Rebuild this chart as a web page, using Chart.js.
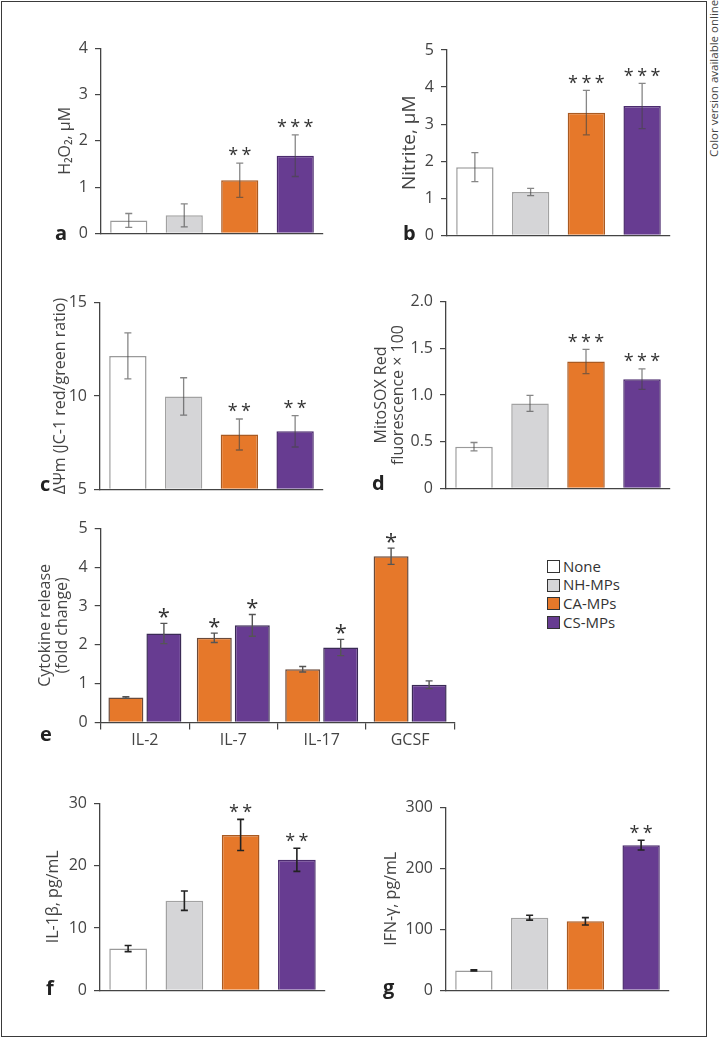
<!DOCTYPE html>
<html><head><meta charset="utf-8">
<script src="https://cdn.jsdelivr.net/npm/chart.js@4.4.1/dist/chart.umd.min.js"></script>
<style>
html,body{margin:0;padding:0;background:#fff;}
body{width:720px;height:1038px;position:relative;overflow:hidden;font-family:'Open Sans',sans-serif;}
canvas{position:absolute;}
.frame{position:absolute;left:1px;top:1px;width:704px;height:1034px;border:1.3px solid #3a3a3a;}
.letter{position:absolute;font:bold 20px/1 'Open Sans',sans-serif;color:#222;}
.note{position:absolute;left:707px;top:157px;white-space:nowrap;font:11.5px/14px 'Open Sans',sans-serif;color:#444;transform-origin:0 0;transform:rotate(-90deg);}
.lbox{position:absolute;width:13px;height:13px;box-sizing:border-box;border:1.2px solid #333;}
.ltxt{position:absolute;font:15px/1 'Open Sans',sans-serif;color:#333;white-space:nowrap;}
</style></head><body>
<div class="frame"></div>
<div class="note">Color version available online</div>
<canvas id="pa"></canvas><canvas id="pb"></canvas>
<canvas id="pc"></canvas><canvas id="pd"></canvas>
<canvas id="pe"></canvas>
<canvas id="pf"></canvas><canvas id="pg"></canvas>
<div id="legend"></div>
<div id="letters"></div>
<script>
// ---------------- DATA ----------------
const groups = ['None', 'NH-MPs', 'CA-MPs', 'CS-MPs'];

const h2o2Mean = [0.28, 0.39, 1.15, 1.68];
const h2o2Err  = [0.15, 0.25, 0.37, 0.45];
const h2o2Sig  = ['', '', '**', '***'];
const h2o2Ticks = ['0', '1', '2', '3', '4'];

const nitriteMean = [1.84, 1.17, 3.31, 3.49];
const nitriteErr  = [0.39, 0.10, 0.60, 0.61];
const nitriteSig  = ['', '', '***', '***'];
const nitriteTicks = ['0', '1', '2', '3', '4', '5'];

const dpsiMean = [12.15, 9.98, 7.94, 8.11];
const dpsiErr  = [1.23, 1.00, 0.83, 0.84];
const dpsiSig  = ['', '', '**', '**'];
const dpsiTicks = ['5', '10', '15'];

const mitoMean = [0.446, 0.91, 1.36, 1.17];
const mitoErr  = [0.045, 0.085, 0.13, 0.11];
const mitoSig  = ['', '', '***', '***'];
const mitoTicks = ['0', '0.5', '1.0', '1.5', '2.0'];

const cytokines = ['IL-2', 'IL-7', 'IL-17', 'GCSF'];
const cytoCA    = [0.64, 2.18, 1.37, 4.28];
const cytoCAErr = [0.02, 0.12, 0.07, 0.21];
const cytoCASig = ['', '*', '', '*'];
const cytoCS    = [2.29, 2.50, 1.93, 0.97];
const cytoCSErr = [0.26, 0.28, 0.21, 0.10];
const cytoCSSig = ['*', '*', '*', ''];
const cytoTicks = ['0', '1', '2', '3', '4', '5'];

const il1bMean = [6.71, 14.38, 24.93, 20.94];
const il1bErr  = [0.50, 1.55, 2.50, 1.85];
const il1bSig  = ['', '', '**', '**'];
const il1bTicks = ['0', '10', '20', '30'];

const ifngMean = [32.7, 119.2, 113.2, 238];
const ifngErr  = [1, 4, 6, 8];
const ifngSig  = ['', '', '', '**'];
const ifngTicks = ['0', '100', '200', '300'];

// ---------------- STYLES ----------------
const fills   = ['#ffffff', '#d5d5d7', '#e6782a', '#673c91'];
const borders = ['#9a9a9a', '#a2a2a2', '#a95a22', '#4b2b6e'];

Chart.defaults.font.family = "'Open Sans', sans-serif";
Chart.defaults.color = '#444';

const errorBars = {
  id: 'errorBars',
  afterDatasetsDraw(chart, args, o) {
    const ctx = chart.ctx, ys = chart.scales.y;
    chart.data.datasets.forEach((ds, di) => {
      const meta = chart.getDatasetMeta(di);
      meta.data.forEach((bar, i) => {
        const v = ds.data[i], e = ds.errors[i];
        const yt = ys.getPixelForValue(v + e), yb = ys.getPixelForValue(v - e);
        const x = bar.x;
        ctx.save();
        ctx.strokeStyle = o.color; ctx.lineWidth = o.width;
        ctx.beginPath();
        ctx.moveTo(x, yt); ctx.lineTo(x, yb);
        ctx.moveTo(x - o.cap, yt); ctx.lineTo(x + o.cap, yt);
        ctx.moveTo(x - o.cap, yb); ctx.lineTo(x + o.cap, yb);
        ctx.stroke();
        const s = ds.sig[i];
        if (s) {
          ctx.fillStyle = '#333';
          ctx.font = o.starSize + "px 'Open Sans', sans-serif";
          ctx.textAlign = 'center'; ctx.textBaseline = 'alphabetic';
          const n = s.length;
          for (let k = 0; k < n; k++) {
            const sx = x + (k - (n - 1) / 2) * o.starGap;
            ctx.fillText('*', sx, yt - o.starOffset + o.starSize * 0.49);
          }
        }
        ctx.restore();
      });
    });
  }
};

function makePanel(id, spec) {
  const cv = document.getElementById(id);
  const [cx, cy, cw, ch] = spec.canvas;
  const [al, at, ar, ab] = spec.area;
  const xH = spec.xH || 0;
  cv.width = cw; cv.height = ch;
  cv.style.left = cx + 'px'; cv.style.top = cy + 'px';
  const lh = spec.titleLH || 1.2;
  const ts = spec.titleSize || 16;
  const titlePad = spec.titleX - cx - ts * lh / 2;
  return new Chart(cv, {
    type: 'bar',
    data: { labels: spec.labels, datasets: spec.datasets },
    options: {
      responsive: false, animation: false,
      devicePixelRatio: 1,
      layout: { padding: { left: 0, top: at - cy, right: cx + cw - ar, bottom: cy + ch - ab - xH } },
      plugins: { legend: { display: false }, tooltip: { enabled: false },
        errorBars: spec.err },
      scales: {
        x: {
          grid: { display: true, drawOnChartArea: false, drawTicks: !!spec.xTicks, tickLength: 7, color: '#444', lineWidth: 1.2 },
          border: { display: true, color: '#444', width: 1.3 },
          ticks: { display: !!spec.xTicks, font: { size: 16 }, color: '#444', padding: 1 },
          afterFit: s => { s.height = xH; }
        },
        y: {
          min: spec.min, max: spec.max,
          ticks: { stepSize: spec.step, font: { size: 16 }, color: '#444', padding: 7,
                   callback: (v, i) => spec.tickLabels[i] },
          grid: { display: true, drawOnChartArea: false, drawTicks: true, tickLength: 6, color: '#444', lineWidth: 1.2 },
          border: { display: true, color: '#444', width: 1.3 },
          title: { display: true, text: spec.title, color: '#444',
                   font: { size: ts, lineHeight: lh }, padding: { top: titlePad, bottom: 0 } },
          afterFit: s => { s.width = al - cx; }
        }
      }
    },
    plugins: [errorBars]
  });
}

function groupSet(mean, err, sig, base) {
  const d = { data: mean, errors: err, sig: sig,
    backgroundColor: fills, borderColor: borders, borderWidth: 1.5,
    categoryPercentage: 1.0, barPercentage: 0.67 };
  if (base !== undefined) d.base = base;
  return [d];
}

const errLight = { color: 'rgba(70,70,70,0.65)', width: 1.3, cap: 3.5, starSize: 18, starGap: 13.3, starOffset: 10.5 };
const errDark  = { color: '#222', width: 1.6, cap: 3.5, starSize: 18, starGap: 13.3, starOffset: 10 };

makePanel('pa', { canvas: [30, 28, 310, 222], area: [101, 48.3, 323, 235.7], titleX: 65,
  labels: groups, datasets: groupSet(h2o2Mean, h2o2Err, h2o2Sig),
  min: 0, max: 4, step: 1, tickLabels: h2o2Ticks, title: 'H\u2082O\u2082, \u00b5M', err: errLight });

makePanel('pb', { canvas: [370, 28, 320, 224], area: [447, 50, 670, 237.3], titleX: 410, titleSize: 19,
  labels: groups, datasets: groupSet(nitriteMean, nitriteErr, nitriteSig),
  min: 0, max: 5, step: 1, tickLabels: nitriteTicks, title: 'Nitrite, \u00b5M', err: errLight });

makePanel('pc', { canvas: [30, 282, 310, 224], area: [100, 302.7, 323, 490], titleX: 60,
  labels: groups, datasets: groupSet(dpsiMean, dpsiErr, dpsiSig, 5),
  min: 5, max: 15, step: 5, tickLabels: dpsiTicks, title: '\u0394\u03a8m (JC-1 red/green ratio)', err: errLight });

makePanel('pd', { canvas: [370, 282, 320, 224], area: [446, 301.7, 670, 488.3], titleX: 381, titleLH: 1.1,
  labels: groups, datasets: groupSet(mitoMean, mitoErr, mitoSig),
  min: 0, max: 2, step: 0.5, tickLabels: mitoTicks, title: ['MitoSOX Red', 'fluorescence \u00d7 100'], err: errLight });

makePanel('pe', { canvas: [30, 508, 440, 250], area: [100.7, 528.3, 454.3, 722.4], xH: 30, xTicks: true,
  titleX: 45, titleLH: 1.1,
  labels: cytokines,
  datasets: [
    { data: cytoCA, errors: cytoCAErr, sig: cytoCASig, backgroundColor: fills[2], borderColor: '#6a4a3a', borderWidth: 1.5,
      categoryPercentage: 0.86, barPercentage: 0.92 },
    { data: cytoCS, errors: cytoCSErr, sig: cytoCSSig, backgroundColor: fills[3], borderColor: '#3a2a55', borderWidth: 1.5,
      categoryPercentage: 0.86, barPercentage: 0.92 }
  ],
  min: 0, max: 5, step: 1, tickLabels: cytoTicks, title: ['Cytokine release', '(fold change)'],
  err: { color: '#555', width: 1.4, cap: 3.5, starSize: 22, starGap: 13, starOffset: 10 } });

makePanel('pf', { canvas: [30, 785, 310, 222], area: [100, 803.3, 325, 991], titleX: 53,
  labels: groups, datasets: groupSet(il1bMean, il1bErr, il1bSig),
  min: 0, max: 30, step: 10, tickLabels: il1bTicks, title: 'IL-1\u03b2, pg/mL', err: errDark });

makePanel('pg', { canvas: [370, 785, 320, 222], area: [446, 807.3, 669, 991], titleX: 391,
  labels: groups, datasets: groupSet(ifngMean, ifngErr, ifngSig),
  min: 0, max: 300, step: 100, tickLabels: ifngTicks, title: 'IFN-\u03b3, pg/mL', err: errDark });

// ---------------- legend ----------------
const lg = document.getElementById('legend');
const legendTops = [560, 578.7, 597.4, 616.1];
groups.forEach((g, i) => {
  const b = document.createElement('div');
  b.className = 'lbox'; b.style.left = '546.5px'; b.style.top = legendTops[i] + 'px';
  b.style.background = fills[i];
  lg.appendChild(b);
  const t = document.createElement('div');
  t.className = 'ltxt'; t.style.left = '563px'; t.style.top = (legendTops[i] + 6.5 - 8) + 'px';
  t.textContent = g;
  lg.appendChild(t);
});

// ---------------- panel letters ----------------
const letterPos = [['a', 55, 241], ['b', 403, 241], ['c', 40, 492], ['d', 372, 491], ['e', 40, 742], ['f', 46, 996], ['g', 383, 995]];
const lt = document.getElementById('letters');
letterPos.forEach(([ch, x, y]) => {
  const d = document.createElement('div');
  d.className = 'letter'; d.textContent = ch;
  d.style.left = x + 'px'; d.style.top = (y - 17.8) + 'px';
  lt.appendChild(d);
});
</script>
</body></html>
